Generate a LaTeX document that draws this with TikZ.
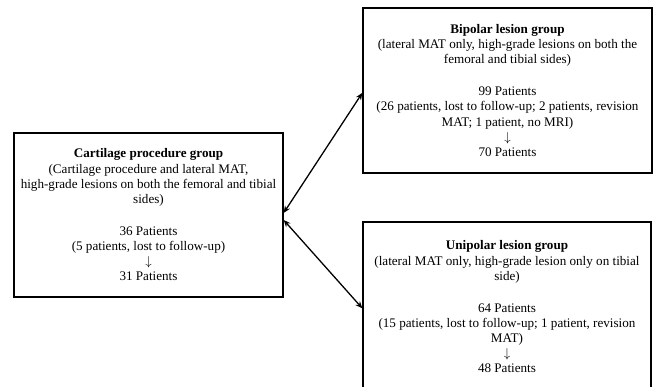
\documentclass[tikz,border=0pt]{standalone}
\usepackage{fontspec}
\setmainfont{Liberation Serif}
\usetikzlibrary{arrows.meta, positioning}

\tikzset{
  groupbox/.style={draw, line width=1.1pt, align=center, inner sep=0pt,
    font=\fontsize{11.2}{13}\selectfont},
  link/.style={{Stealth[length=6pt,width=5pt]}-{Stealth[length=6pt,width=5pt]}, line width=1.1pt}
}

\begin{document}
\begin{tikzpicture}
    %% frame of the page
    \clip (0,0) rectangle (19.65,11.61);

    %% LEFT: cartilage group
    \node[groupbox, minimum width=8.07cm, minimum height=4.92cm] (cart) at (4.455,5.16)
      {\textbf{Cartilage procedure group}\\
       (Cartilage procedure and lateral MAT,\\
       high-grade lesions on both the femoral and tibial\\
       sides)\\[14pt]
       36 Patients\\
       (5 patients, lost to follow-up)\\
       $\downarrow$\\
       31 Patients};

    %% RIGHT TOP: bipolar group
    \node[groupbox, minimum width=8.67cm, minimum height=4.95cm] (bip) at (15.225,8.895)
      {\textbf{Bipolar lesion group}\\
       (lateral MAT only, high-grade lesions on both the\\
       femoral and tibial sides)\\[14pt]
       99 Patients\\
       (26 patients, lost to follow-up; 2 patients, revision\\
       MAT; 1 patient, no MRI)\\
       $\downarrow$\\
       70 Patients};

    %% RIGHT BOTTOM: unipolar group (runs off the page)
    \node[groupbox, minimum width=8.64cm, minimum height=5.1cm] (uni) at (15.21,2.4)
      {\textbf{Unipolar lesion group}\\
       (lateral MAT only, high-grade lesion only on tibial\\
       side)\\[14pt]
       64 Patients\\
       (15 patients, lost to follow-up; 1 patient, revision\\
       MAT)\\
       $\downarrow$\\
       48 Patients};

    %% Arrows
    \draw[link] ([yshift=0.06cm]cart.east) -- ([yshift=-0.07cm]bip.west);
    \draw[link] ([yshift=-0.15cm]cart.east) -- ([yshift=-0.04cm]uni.west);
\end{tikzpicture}
\end{document}
